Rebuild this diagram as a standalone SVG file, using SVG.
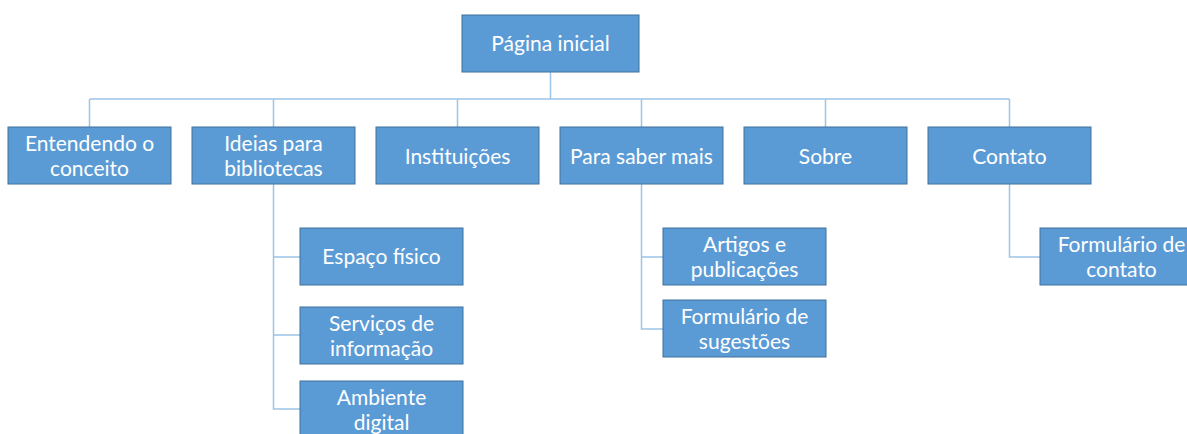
<svg xmlns="http://www.w3.org/2000/svg" width="1187" height="434" viewBox="0 0 1187 434">
<style>
.box{fill:#5B9BD5;stroke:#41719C;stroke-width:1}
.t{font-family:Lato,"Open Sans","Liberation Sans",sans-serif;font-size:21px;fill:#FFFFFF;text-anchor:middle}
.c{fill:none;stroke:#9DC3E6;stroke-width:1.5}
</style>
<rect width="1187" height="434" fill="#FFFFFF"/>
<g id="connectors">
<path class="c" d="M550.5 72 V99 M89.5 99 H1009.5 M89.5 99 V127 M273.5 99 V127 M457.5 99 V127 M641.5 99 V127 M825.5 99 V127 M1009.5 99 V127"/>
<path class="c" d="M273.5 184 V409 H300 M273.5 257 H300 M273.5 335 H300"/>
<path class="c" d="M641.5 184 V329 H663 M641.5 257 H663"/>
<path class="c" d="M1009.5 184 V257 H1040"/>
</g>
<g id="root"><rect class="box" x="462" y="15" width="177" height="57"/><text class="t" x="550.5" y="51">Página inicial</text></g>
<g id="entendendo"><rect class="box" x="8" y="127" width="163" height="57"/><text class="t" x="89.5" y="151">Entendendo o</text><text class="t" x="89.5" y="175.5">conceito</text></g>
<g id="ideias"><rect class="box" x="192" y="127" width="163" height="57"/><text class="t" x="273.5" y="151">Ideias para</text><text class="t" x="273.5" y="175.5">bibliotecas</text></g>
<g id="instituicoes"><rect class="box" x="376" y="127" width="163" height="57"/><text class="t" x="457.5" y="163.5">Instituições</text></g>
<g id="parasaber"><rect class="box" x="560" y="127" width="163" height="57"/><text class="t" x="641.5" y="163.5">Para saber mais</text></g>
<g id="sobre"><rect class="box" x="744" y="127" width="163" height="57"/><text class="t" x="825.5" y="163.5">Sobre</text></g>
<g id="contato"><rect class="box" x="928" y="127" width="163" height="57"/><text class="t" x="1009.5" y="163.5">Contato</text></g>
<g id="espaco"><rect class="box" x="300" y="228" width="163" height="57"/><text class="t" x="381.5" y="264">Espaço físico</text></g>
<g id="servicos"><rect class="box" x="300" y="307" width="163" height="57"/><text class="t" x="381.5" y="331">Serviços de</text><text class="t" x="381.5" y="355.5">informação</text></g>
<g id="ambiente"><rect class="box" x="300" y="381" width="163" height="57"/><text class="t" x="381.5" y="405">Ambiente</text><text class="t" x="381.5" y="429.5">digital</text></g>
<g id="artigos"><rect class="box" x="663" y="228" width="163" height="57"/><text class="t" x="744.5" y="252">Artigos e</text><text class="t" x="744.5" y="276.5">publicações</text></g>
<g id="sugestoes"><rect class="box" x="663" y="300" width="163" height="57"/><text class="t" x="744.5" y="324">Formulário de</text><text class="t" x="744.5" y="348.5">sugestões</text></g>
<g id="form-contato"><rect class="box" x="1040" y="228" width="163" height="57"/><text class="t" x="1121.5" y="252">Formulário de</text><text class="t" x="1121.5" y="276.5">contato</text></g>
</svg>
